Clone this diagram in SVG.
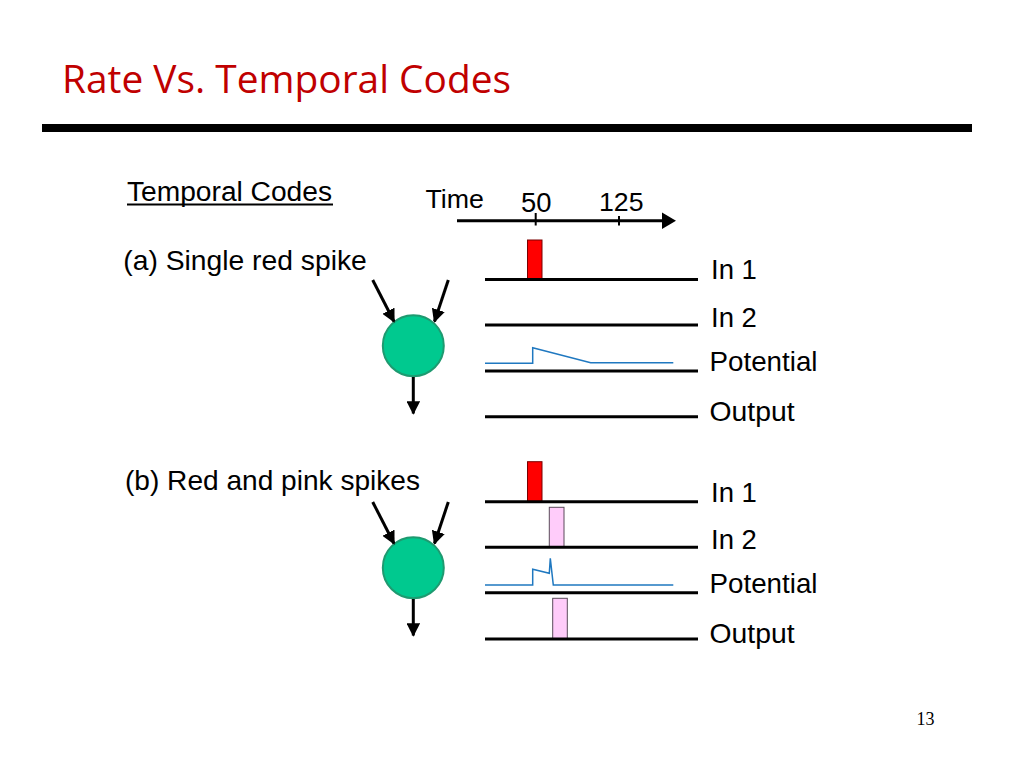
<svg xmlns="http://www.w3.org/2000/svg" width="1024" height="768" viewBox="0 0 1024 768">
<defs>
<style>
.t{font-family:"Liberation Sans",Arial,sans-serif;fill:#000}
.ax{stroke:#000;stroke-width:3;fill:none}
.arr{stroke:#000;stroke-width:3;fill:none;marker-end:url(#ah)}
.pot{stroke:#1F78C0;stroke-width:1.5;fill:none}
.neuron{fill:#00C98F;stroke:#1E9A70;stroke-width:2}
.red{fill:#FF0000;stroke:#7A0000;stroke-width:1}
.pink{fill:#FFCCFA;stroke:#5A4A5A;stroke-width:1}
</style>
<marker id="ah" viewBox="0 0 10 10" refX="9" refY="5" markerWidth="4.5" markerHeight="4.5" orient="auto" markerUnits="strokeWidth">
<path d="M0,0 L10,5 L0,10 z" fill="#000"/>
</marker>
</defs>
<rect width="1024" height="768" fill="#fff"/>

<g id="title">
<text x="62" y="92.5" font-family="'Open Sans','Noto Sans',sans-serif" font-size="39" fill="#C00000" textLength="449" lengthAdjust="spacingAndGlyphs">Rate Vs. Temporal Codes</text>
<rect x="42" y="124" width="930" height="8" fill="#000"/>
</g>

<g id="header">
<text class="t" x="127" y="200.5" font-size="27" textLength="205" lengthAdjust="spacingAndGlyphs">Temporal Codes</text>
<rect x="127" y="203.5" width="206" height="2" fill="#000"/>
<text class="t" x="425.5" y="207.5" font-size="26" textLength="58.5" lengthAdjust="spacingAndGlyphs">Time</text>
<text class="t" x="521" y="211.5" font-size="27" textLength="30.5" lengthAdjust="spacingAndGlyphs">50</text>
<text class="t" x="599" y="211" font-size="26.5" textLength="44.5" lengthAdjust="spacingAndGlyphs">125</text>
</g>

<g id="time-axis">
<line class="ax" x1="457" y1="220.7" x2="664" y2="220.7"/>
<path d="M662,212.5 L676,220.7 L662,229 z" fill="#000"/>
<line x1="535.7" y1="213" x2="535.7" y2="225.5" stroke="#000" stroke-width="2"/>
<line x1="619" y1="216" x2="619" y2="225.5" stroke="#000" stroke-width="2"/>
</g>

<g id="panel-a">
<text class="t" x="123.3" y="270" font-size="28" textLength="243.5" lengthAdjust="spacingAndGlyphs">(a) Single red spike</text>
<g id="neuron-a">
<circle class="neuron" cx="413.3" cy="345.7" r="30.5"/>
</g>
<g id="connectors-a">
<line class="arr" x1="372.7" y1="280" x2="394" y2="321.5"/>
<line class="arr" x1="448.3" y1="280" x2="434.5" y2="321.5"/>
<line class="arr" x1="413.3" y1="377" x2="413.3" y2="413.5"/>
</g>
<g id="traces-a">
<rect class="red" x="527.5" y="240" width="14.5" height="39.5"/>
<line class="ax" x1="485" y1="279.5" x2="698" y2="279.5"/>
<line class="ax" x1="485" y1="325" x2="698" y2="325"/>
<polyline class="pot" points="485,363.3 532.7,363.3 532.7,347.7 590.7,362.7 673.3,362.7"/>
<line class="ax" x1="485" y1="371" x2="698" y2="371"/>
<line class="ax" x1="485" y1="416.7" x2="698" y2="416.7"/>
</g>
<g id="labels-a" class="t" font-size="27.5">
<text class="t" x="711" y="279.3" font-size="27.5">In 1</text>
<text class="t" x="711" y="327.3" font-size="27.5">In 2</text>
<text class="t" x="709.5" y="370.7" font-size="27.5" textLength="108" lengthAdjust="spacingAndGlyphs">Potential</text>
<text class="t" x="709.5" y="420.7" font-size="27.5" textLength="85" lengthAdjust="spacingAndGlyphs">Output</text>
</g>
</g>

<g id="panel-b">
<text class="t" x="125" y="490" font-size="28" textLength="295" lengthAdjust="spacingAndGlyphs">(b) Red and pink spikes</text>
<g id="neuron-b">
<circle class="neuron" cx="413.3" cy="567.7" r="30.5"/>
</g>
<g id="connectors-b">
<line class="arr" x1="372.7" y1="502" x2="394" y2="543.5"/>
<line class="arr" x1="448.3" y1="502" x2="434.5" y2="543.5"/>
<line class="arr" x1="413.3" y1="599" x2="413.3" y2="635.5"/>
</g>
<g id="traces-b">
<rect class="red" x="527.5" y="461.7" width="14.5" height="39.7"/>
<line class="ax" x1="485" y1="501.7" x2="698" y2="501.7"/>
<rect class="pink" x="549.3" y="507.3" width="14.7" height="39.7"/>
<line class="ax" x1="485" y1="547.3" x2="698" y2="547.3"/>
<polyline class="pot" points="485,585 532.7,585 532.7,569.3 549.3,573.3 550.3,558.3 553.3,585 673.3,585"/>
<line class="ax" x1="485" y1="592.7" x2="698" y2="592.7"/>
<rect class="pink" x="552.7" y="598.3" width="14.6" height="40.5"/>
<line class="ax" x1="485" y1="639" x2="698" y2="639"/>
</g>
<g id="labels-b">
<text class="t" x="711" y="501.7" font-size="27.5">In 1</text>
<text class="t" x="711" y="549" font-size="27.5">In 2</text>
<text class="t" x="709.5" y="593.3" font-size="27.5" textLength="108" lengthAdjust="spacingAndGlyphs">Potential</text>
<text class="t" x="709.5" y="643" font-size="27.5" textLength="85" lengthAdjust="spacingAndGlyphs">Output</text>
</g>
</g>

<text x="916.5" y="725" font-family="'Liberation Serif','Times New Roman',serif" font-size="18" fill="#000">13</text>
</svg>
